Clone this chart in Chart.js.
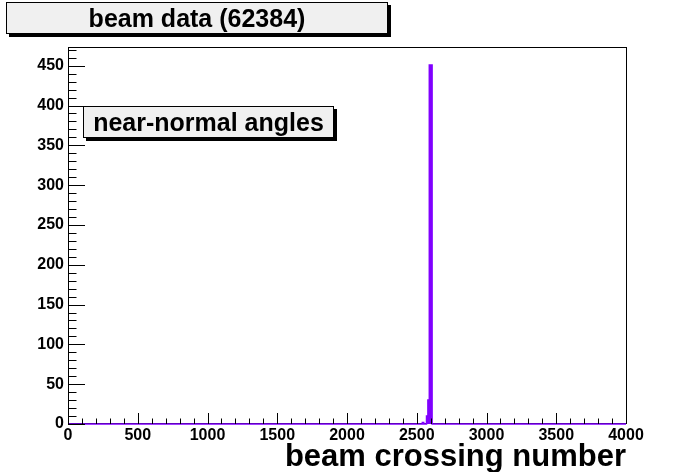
<!DOCTYPE html>
<html>
<head>
<meta charset="utf-8">
<script src="https://cdn.jsdelivr.net/npm/chart.js@4"></script>
<style>
html,body{margin:0;padding:0;background:#fff;}
#wrap{width:696px;height:472px;position:relative;}
</style>
</head>
<body>
<div id="wrap"><canvas id="c" width="696" height="472"></canvas></div>
<script>
// Histogram bins (left edges, width 10) with non-zero counts
const binStarts = [2540, 2550, 2570, 2580, 2590, 2610];
const binCounts = [2, 0, 10, 30, 451, 0];
const xRange = [0, 4000];
const yMax = 473.5;
const xMajorStep = 500, xMinorStep = 100;
const yMajorStep = 50, yMinorStep = 10;
const titleText = "beam data (62384)";
const labelText = "near-normal angles";
const xTitle = "beam crossing number";

const PURPLE = '#8000ff';
const FONT = "'Liberation Sans', Arial, Helvetica, sans-serif";

// step-line points (value holds from x to next x)
const pts = [{x: xRange[0], y: 0}];
binStarts.forEach((s, i) => pts.push({x: s, y: binCounts[i]}));
pts.push({x: xRange[1], y: 0});

function box(ctx, x, y, w, h, text, size) {
  ctx.save();
  ctx.fillStyle = '#000';
  ctx.fillRect(x + 3, y + 3, w, h);
  ctx.fillStyle = '#f0f0f0';
  ctx.fillRect(x, y, w, h);
  ctx.strokeStyle = '#000';
  ctx.lineWidth = 1;
  ctx.strokeRect(x + 0.5, y + 0.5, w - 1, h - 1);
  ctx.fillStyle = '#000';
  ctx.font = 'bold ' + size + 'px ' + FONT;
  ctx.textAlign = 'center';
  ctx.textBaseline = 'alphabetic';
  ctx.fillText(text, x + w / 2, y + h / 2 + size * 0.36);
  ctx.restore();
}

const rootPlugin = {
  id: 'rootStyle',
  beforeDatasetsDraw(chart) {
    const {ctx, chartArea: a} = chart;
    ctx.save();
    ctx.strokeStyle = '#000';
    ctx.lineWidth = 1;
    ctx.strokeRect(Math.round(a.left) + 0.5, Math.round(a.top) + 0.5,
      Math.round(a.right - a.left), Math.round(a.bottom - a.top) - 1);
    ctx.restore();
  },
  afterDatasetsDraw(chart) {
    const {ctx, chartArea: a, scales} = chart;
    const xs = scales.x, ys = scales.y;
    ctx.save();
    ctx.strokeStyle = '#000';
    ctx.lineWidth = 1;
    ctx.beginPath();
    for (let v = xRange[0]; v <= xRange[1]; v += xMinorStep) {
      const px = Math.round(xs.getPixelForValue(v)) + 0.5;
      const len = (v % xMajorStep === 0) ? 11 : 5.5;
      ctx.moveTo(px, a.bottom);
      ctx.lineTo(px, a.bottom - len);
    }
    for (let v = 0; v <= yMax; v += yMinorStep) {
      const py = Math.round(ys.getPixelForValue(v)) + 0.5;
      const len = (v % yMajorStep === 0) ? 17 : 8.5;
      ctx.moveTo(a.left, py);
      ctx.lineTo(a.left + len, py);
    }
    ctx.stroke();
    ctx.restore();
  },
  afterDraw(chart) {
    const ctx = chart.ctx;
    box(ctx, 6, 2, 382, 32, titleText, 25);
    box(ctx, 83, 106, 251, 32, labelText, 25);
  }
};

new Chart(document.getElementById('c'), {
  type: 'line',
  data: {
    datasets: [{
      data: pts,
      stepped: 'before',
      borderColor: PURPLE,
      backgroundColor: PURPLE,
      borderWidth: 1.5,
      fill: 'origin',
      pointRadius: 0,
      tension: 0,
      clip: 3
    }]
  },
  options: {
    responsive: false,
    animation: false,
    devicePixelRatio: 1,
    layout: {padding: {top: 47, right: 70, left: 0, bottom: 0}},
    plugins: {legend: {display: false}, tooltip: {enabled: false}, title: {display: false}},
    scales: {
      x: {
        type: 'linear',
        min: xRange[0], max: xRange[1],
        grid: {display: false, drawTicks: false},
        border: {display: false},
        ticks: {
          stepSize: xMajorStep,
          color: '#000',
          padding: 2,
          maxRotation: 0,
          autoSkip: false,
          font: {family: FONT, size: 16, weight: 'bold'},
          callback: v => String(v)
        },
        title: {
          display: true,
          text: xTitle,
          align: 'end',
          color: '#000',
          padding: {top: 0, bottom: -4},
          font: {family: FONT, size: 31, weight: 'bold'}
        },
        afterFit(s) { s.height = 48; }
      },
      y: {
        type: 'linear',
        min: 0, max: yMax,
        grid: {display: false, drawTicks: false},
        border: {display: false},
        ticks: {
          stepSize: yMajorStep,
          includeBounds: false,
          color: '#000',
          padding: 4,
          autoSkip: false,
          font: {family: FONT, size: 16, weight: 'bold'},
          callback: v => String(v)
        },
        afterFit(s) { s.width = 68; }
      }
    }
  },
  plugins: [rootPlugin]
});
</script>
</body>
</html>
